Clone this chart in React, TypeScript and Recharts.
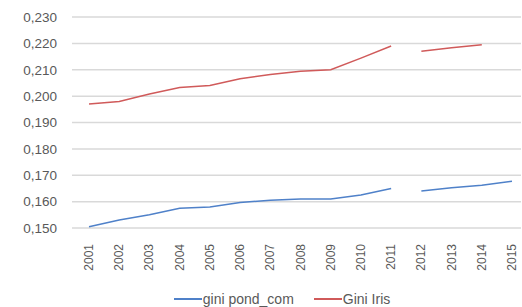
import { LineChart, Line, XAxis, YAxis, CartesianGrid, Legend } from 'recharts';

const years = ['2001', '2002', '2003', '2004', '2005', '2006', '2007', '2008', '2009', '2010', '2011', '2012', '2013', '2014', '2015'];

// the source series break between 2011 and 2012, so each one is split in two parts
const giniPondA = [0.1505, 0.153, 0.155, 0.1575, 0.158, 0.1597, 0.1605, 0.161, 0.161, 0.1625, 0.165, null, null, null, null];
const giniPondB = [null, null, null, null, null, null, null, null, null, null, null, 0.164, 0.1653, 0.1662, 0.1677];
const giniIrisA = [0.197, 0.198, 0.2008, 0.2033, 0.204, 0.2066, 0.2082, 0.2094, 0.21, 0.2144, 0.219, null, null, null, null];
const giniIrisB = [null, null, null, null, null, null, null, null, null, null, null, 0.217, 0.2183, 0.2195, null];

const yTicks = [0.15, 0.16, 0.17, 0.18, 0.19, 0.2, 0.21, 0.22, 0.23];

const data = years.map((year, i) => ({
  year,
  pondA: giniPondA[i],
  pondB: giniPondB[i],
  irisA: giniIrisA[i],
  irisB: giniIrisB[i],
}));

const BLUE = '#4f81c9';
const RED = '#d05a5a';
const FONT = '"Liberation Sans", Arial, sans-serif';

const legendItems = [
  { label: 'gini pond_com', color: BLUE },
  { label: 'Gini Iris', color: RED },
];

function YearTick(props: any) {
  const { x, y, payload } = props;
  return (
    <text
      x={x}
      y={y}
      transform={`rotate(-90 ${x} ${y})`}
      dx={-8}
      dy={4}
      textAnchor="end"
      fill="#595959"
      fontSize={12}
      fontFamily={FONT}
    >
      {payload.value}
    </text>
  );
}

function LegendContent() {
  return (
    <div style={{ display: 'flex', justifyContent: 'center', gap: 20, fontFamily: FONT, fontSize: 14, lineHeight: '16px', color: '#595959', paddingLeft: 43 }}>
      {legendItems.map((item) => (
        <div key={item.label} style={{ display: 'flex', alignItems: 'center' }}>
          <div style={{ width: 28, height: 2, backgroundColor: item.color, marginRight: 1 }} />
          <span>{item.label}</span>
        </div>
      ))}
    </div>
  );
}

export default function App() {
  return (
    <div style={{ position: 'absolute', left: 0, top: 0, width: 522, height: 307, background: '#fff', overflow: 'hidden' }}>
      <LineChart width={522} height={307} data={data} margin={{ top: 17, right: 1, left: 0, bottom: 0 }}>
        <CartesianGrid vertical={false} stroke="#d9d9d9" strokeWidth={1.5} />
        <XAxis
          dataKey="year"
          axisLine={false}
          tickLine={false}
          tick={<YearTick />}
          interval={0}
          height={63}
          padding={{ left: 17, right: 9 }}
        />
        <YAxis
          domain={[0.15, 0.23]}
          ticks={yTicks}
          axisLine={false}
          tickLine={false}
          width={72}
          tickMargin={9}
          tick={{ fill: '#595959', fontSize: 13.5, fontFamily: FONT }}
          tickFormatter={(v: number) => v.toFixed(3).replace('.', ',')}
        />
        <Legend verticalAlign="bottom" height={16} content={<LegendContent />} />
        <Line dataKey="pondA" stroke={BLUE} strokeWidth={1.5} dot={false} isAnimationActive={false} />
        <Line dataKey="pondB" stroke={BLUE} strokeWidth={1.5} dot={false} isAnimationActive={false} />
        <Line dataKey="irisA" stroke={RED} strokeWidth={1.5} dot={false} isAnimationActive={false} />
        <Line dataKey="irisB" stroke={RED} strokeWidth={1.5} dot={false} isAnimationActive={false} />
      </LineChart>
    </div>
  );
}
